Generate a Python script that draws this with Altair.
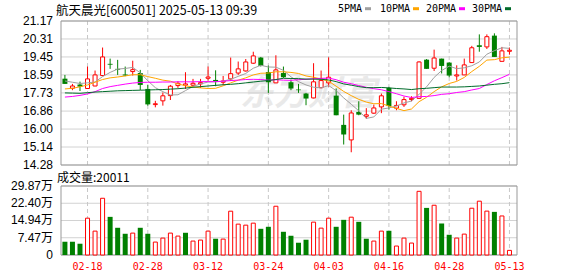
import altair as alt
import pandas as pd

title_text = "航天晨光[600501] 2025-05-13 09:39"
vol_title = "成交量:20011"
watermark = "东方财富"

dates = ["02-13", "02-14", "02-17", "02-18", "02-19", "02-20", "02-21", "02-24", "02-25", "02-26",
         "02-27", "02-28", "03-03", "03-04", "03-05", "03-06", "03-07", "03-10", "03-11", "03-12",
         "03-13", "03-14", "03-17", "03-18", "03-19", "03-20", "03-21", "03-24", "03-25", "03-26",
         "03-27", "03-28", "03-31", "04-01", "04-02", "04-03", "04-07", "04-08", "04-09", "04-10",
         "04-11", "04-14", "04-15", "04-16", "04-17", "04-18", "04-21", "04-22", "04-23", "04-24",
         "04-25", "04-28", "04-29", "04-30", "05-06", "05-07", "05-08", "05-09", "05-12", "05-13"]
opens = [18.41, 17.95, 18.13, 17.94, 18.06, 18.56, 19.12, 18.88, 18.61, 18.75,
         18.68, 17.92, 17.17, 17.35, 17.60, 18.08, 18.10, 18.10, 18.16, 18.43,
         18.35, 18.24, 18.40, 18.68, 18.78, 19.15, 19.42, 18.73, 18.21, 18.68,
         18.24, 17.89, 17.70, 17.49, 17.98, 18.21, 17.60, 16.20, 15.48, 16.82,
         16.61, 16.76, 17.06, 17.97, 17.00, 17.16, 17.41, 17.47, 19.32, 18.91,
         19.37, 19.18, 18.54, 18.59, 19.18, 20.01, 19.93, 20.47, 19.24, 19.72]
highs = [18.59, 18.16, 18.27, 18.99, 18.80, 19.90, 19.37, 19.31, 18.99, 19.27,
         18.83, 18.11, 17.35, 17.75, 18.11, 18.29, 18.72, 18.40, 18.40, 18.99,
         18.81, 18.54, 19.42, 19.23, 19.35, 19.70, 19.45, 19.04, 19.53, 18.99,
         18.37, 18.16, 17.73, 19.15, 18.80, 19.43, 17.94, 16.69, 16.90, 17.33,
         17.00, 17.17, 17.70, 18.02, 17.33, 17.55, 17.57, 19.24, 19.35, 19.80,
         19.37, 19.20, 19.05, 19.37, 19.98, 20.53, 20.53, 20.58, 19.93, 19.90]
lows = [18.16, 17.86, 17.82, 17.92, 18.05, 18.53, 18.88, 18.59, 18.53, 18.56,
        17.87, 17.12, 17.04, 17.12, 17.39, 17.97, 17.92, 18.05, 17.97, 18.32,
        18.05, 18.11, 18.30, 18.59, 18.75, 19.12, 18.99, 17.73, 18.21, 18.45,
        17.86, 17.73, 17.14, 17.47, 17.95, 18.03, 16.66, 15.26, 14.89, 16.66,
        16.49, 16.73, 16.76, 16.93, 16.90, 17.06, 17.33, 17.44, 18.88, 18.78,
        18.66, 18.48, 18.32, 18.59, 19.18, 19.70, 19.83, 19.45, 19.24, 19.56]
closes = [18.16, 18.06, 18.03, 18.40, 18.59, 19.45, 19.08, 18.84, 18.56, 18.84,
          18.11, 17.18, 17.21, 17.59, 18.05, 18.19, 18.16, 18.19, 18.22, 18.49,
          18.26, 18.30, 18.65, 18.88, 19.21, 19.50, 19.02, 18.24, 18.83, 18.48,
          17.94, 17.86, 17.46, 18.26, 18.32, 18.48, 16.66, 15.74, 16.77, 16.69,
          16.68, 17.01, 17.59, 17.10, 17.13, 17.41, 17.47, 19.21, 18.88, 19.40,
          19.02, 18.56, 18.59, 19.07, 19.89, 19.93, 20.42, 19.45, 19.74, 19.77]
volumes = [5.74, 5.74, 4.88, 15.94, 10.34, 24.56, 16.51, 11.78, 9.19, 9.48,
           11.78, 9.19, 5.60, 7.32, 9.48, 8.19, 9.62, 6.03, 6.46, 10.34,
           7.04, 6.89, 18.96, 13.36, 12.92, 13.79, 11.34, 12.21, 21.11, 10.05,
           8.33, 5.31, 6.61, 14.22, 11.63, 15.94, 12.21, 15.22, 16.37, 14.36,
           7.04, 6.03, 10.34, 10.48, 3.88, 7.32, 5.17, 27.57, 20.39, 21.54,
           13.64, 8.76, 7.32, 9.05, 20.25, 23.30, 19.00, 18.67, 16.90, 2.00]
vol_up = [0, 0, 0, 1, 1, 1, 0, 0, 0, 1, 0, 0, 1, 1, 1, 1, 0, 1, 1, 1, 0, 1, 1, 1, 1, 1, 0, 0, 1, 0,
          0, 0, 0, 1, 1, 1, 0, 0, 1, 0, 0, 1, 1, 0, 1, 1, 1, 1, 0, 1, 0, 0, 1, 1, 1, 1, 1, 0, 1, 1]

ma5 = [18.30, 18.24, 18.18, 18.21, 18.25, 18.51, 18.71, 18.87, 18.90, 18.95,
       18.69, 18.31, 17.98, 17.79, 17.63, 17.64, 17.84, 18.04, 18.16, 18.25,
       18.26, 18.29, 18.38, 18.52, 18.66, 18.91, 19.05, 18.97, 18.96, 18.81,
       18.50, 18.27, 18.11, 18.00, 17.97, 18.08, 17.84, 17.49, 17.19, 16.87,
       16.51, 16.58, 16.95, 17.01, 17.10, 17.25, 17.34, 17.66, 18.02, 18.47,
       18.80, 19.01, 18.89, 18.93, 19.03, 19.21, 19.58, 19.75, 19.89, 19.86]
ma10 = [17.92, 17.95, 18.02, 18.11, 18.24, 18.37, 18.45, 18.49, 18.54, 18.60,
        18.60, 18.51, 18.43, 18.34, 18.29, 18.16, 18.07, 18.01, 17.97, 17.94,
        17.95, 18.07, 18.21, 18.34, 18.45, 18.59, 18.67, 18.68, 18.74, 18.74,
        18.71, 18.66, 18.54, 18.48, 18.39, 18.29, 18.05, 17.80, 17.60, 17.42,
        17.29, 17.21, 17.22, 17.10, 16.99, 16.88, 16.96, 17.31, 17.52, 17.79,
        18.02, 18.18, 18.28, 18.47, 18.75, 19.00, 19.30, 19.32, 19.41, 19.44]
ma20 = [17.53, 17.56, 17.61, 17.68, 17.79, 17.94, 18.03, 18.09, 18.15, 18.20,
        18.23, 18.24, 18.24, 18.25, 18.25, 18.26, 18.26, 18.26, 18.27, 18.27,
        18.27, 18.29, 18.32, 18.34, 18.37, 18.38, 18.37, 18.34, 18.36, 18.34,
        18.33, 18.36, 18.38, 18.41, 18.42, 18.44, 18.36, 18.24, 18.17, 18.08,
        18.00, 17.93, 17.88, 17.79, 17.69, 17.58, 17.51, 17.55, 17.56, 17.60,
        17.66, 17.69, 17.75, 17.79, 17.87, 17.94, 18.13, 18.31, 18.46, 18.62]
ma30 = [17.73, 17.72, 17.71, 17.74, 17.77, 17.79, 17.81, 17.83, 17.84, 17.85,
        17.86, 17.87, 17.88, 17.89, 17.91, 17.93, 17.96, 18.00, 18.03, 18.06,
        18.09, 18.12, 18.14, 18.17, 18.21, 18.25, 18.29, 18.32, 18.37, 18.43,
        18.42, 18.41, 18.39, 18.39, 18.38, 18.35, 18.27, 18.16, 18.10, 18.03,
        17.98, 17.98, 17.99, 17.97, 17.94, 17.92, 17.89, 17.93, 17.95, 17.98,
        18.01, 18.01, 18.01, 18.02, 18.04, 18.06, 18.10, 18.14, 18.17, 18.22]

price_ticks = [14.28, 15.14, 16.00, 16.86, 17.73, 18.59, 19.45, 20.31, 21.17]
price_labels = ["14.28", "15.14", "16.00", "16.86", "17.73", "18.59", "19.45", "20.31", "21.17"]
vol_ticks = [0, 7.47, 14.94, 22.40, 29.87]
vol_labels = ["0", "7.47万", "14.94万", "22.40万", "29.87万"]
date_tick_idx = [3, 11, 19, 27, 35, 43, 51, 59]
ma_names = ["5PMA", "10PMA", "20PMA", "30PMA"]
ma_colors = ["#a0a0a0", "#ffa500", "#ff00ff", "#006b2a"]

RED = "#ff0000"
GREEN = "#008000"
GRID = "#d2d2d2"
VGRID = "#c8c8c8"
FRAME = "#999999"
LABEL_FONT = "Liberation Sans, Noto Sans CJK SC"
W, H = 466, 234
P_RANGE = [144, 0]
V_RANGE = [234, 165]
X_DOMAIN = [-0.52, 60.0]
P_DOMAIN = [price_ticks[0], price_ticks[-1]]
V_DOMAIN = [vol_ticks[0], vol_ticks[-1]]

n = len(dates)
df = pd.DataFrame({"i": list(range(n)), "date": dates, "open": opens, "high": highs,
                   "low": lows, "close": closes, "vol": volumes})
df["dir"] = ["up" if c >= o else "down" for o, c in zip(opens, closes)]
df["vdir"] = ["up" if u else "down" for u in vol_up]

ma_df = pd.DataFrame({
    "i": list(range(n)) * 4,
    "v": ma5 + ma10 + ma20 + ma30,
    "name": sum([[nm] * n for nm in ma_names], []),
})

xscale = alt.Scale(domain=X_DOMAIN, nice=False, zero=False)
pscale = alt.Scale(domain=P_DOMAIN, range=P_RANGE, nice=False, zero=False)
vscale = alt.Scale(domain=V_DOMAIN, range=V_RANGE, nice=False, zero=False)


def X(field):
    return alt.X(field, scale=xscale, axis=None)


def PY(field):
    return alt.Y(field, scale=pscale, axis=None)


def VY(field):
    return alt.Y(field, scale=vscale, axis=None)


# ---------- price panel ----------
wm = alt.Chart(pd.DataFrame({"t": [watermark]})).mark_text(
    font="Noto Sans CJK SC", fontSize=34, fontWeight="bold", fontStyle="italic",
    color="#e9e9e9", align="left", baseline="alphabetic"
).encode(x=alt.value(184), y=alt.value(84), text="t:N")

p_tick_df = pd.DataFrame({"v": price_ticks, "lab": price_labels,
                          "x0": X_DOMAIN[0], "x1": X_DOMAIN[1]})
p_grid = alt.Chart(p_tick_df).mark_rule(color=GRID, strokeWidth=1).encode(
    x=X("x0:Q"), x2="x1:Q", y=PY("v:Q"))
p_lab = alt.Chart(p_tick_df).mark_text(
    font=LABEL_FONT, fontSize=12, color="#000000", align="right", baseline="middle"
).encode(x=alt.value(-3), y=PY("v:Q"), text="lab:N")

p_vgrid = alt.Chart(pd.DataFrame({"i": date_tick_idx, "lo": P_DOMAIN[0], "hi": P_DOMAIN[1]})).mark_rule(
    strokeDash=[4, 3], color=VGRID, strokeWidth=1).encode(
    x=X("i:Q"), y=PY("lo:Q"), y2="hi:Q")

p_frame = alt.Chart(pd.DataFrame({"x0": [X_DOMAIN[0]], "x1": [X_DOMAIN[1]],
                                  "y0": [P_DOMAIN[0]], "y1": [P_DOMAIN[1]]})).mark_rect(
    fillOpacity=0, stroke=FRAME, strokeWidth=1).encode(
    x=X("x0:Q"), x2="x1:Q", y=PY("y0:Q"), y2="y1:Q")

wick_up = alt.Chart(df).transform_filter("datum.dir == 'up'").mark_rule(
    strokeWidth=1, color=RED).encode(x=X("i:Q"), y=PY("low:Q"), y2="high:Q")
wick_dn = alt.Chart(df).transform_filter("datum.dir == 'down'").mark_rule(
    strokeWidth=1, color=GREEN).encode(x=X("i:Q"), y=PY("low:Q"), y2="high:Q")

body_up = alt.Chart(df).transform_filter("datum.dir == 'up'").mark_bar(
    size=4, fill="#ffffff", stroke=RED, strokeWidth=1).encode(
    x=X("i:Q"), y=PY("open:Q"), y2="close:Q")
body_dn = alt.Chart(df).transform_filter("datum.dir == 'down'").mark_bar(
    size=5, color=GREEN).encode(
    x=X("i:Q"), y=PY("open:Q"), y2="close:Q")

ma_lines = alt.Chart(ma_df).mark_line(strokeWidth=1).encode(
    x=X("i:Q"), y=PY("v:Q"),
    color=alt.Color("name:N", scale=alt.Scale(domain=ma_names, range=ma_colors), legend=None))

price = alt.layer(wm, p_grid, p_vgrid, p_frame, p_lab, wick_up, wick_dn, body_up, body_dn, ma_lines)

# ---------- volume panel ----------
v_tick_df = pd.DataFrame({"v": vol_ticks, "lab": vol_labels,
                          "x0": X_DOMAIN[0], "x1": X_DOMAIN[1]})
v_grid = alt.Chart(v_tick_df).mark_rule(color=GRID, strokeWidth=1).encode(
    x=X("x0:Q"), x2="x1:Q", y=VY("v:Q"))
v_lab = alt.Chart(v_tick_df).mark_text(
    font=LABEL_FONT, fontSize=12, color="#000000", align="right", baseline="middle"
).encode(x=alt.value(-3), y=VY("v:Q"), text="lab:N")

v_vgrid = alt.Chart(pd.DataFrame({"i": date_tick_idx, "lo": V_DOMAIN[0], "hi": V_DOMAIN[1]})).mark_rule(
    strokeDash=[4, 3], color=VGRID, strokeWidth=1).encode(
    x=X("i:Q"), y=VY("lo:Q"), y2="hi:Q")

v_frame = alt.Chart(pd.DataFrame({"x0": [X_DOMAIN[0]], "x1": [X_DOMAIN[1]],
                                  "y0": [V_DOMAIN[0]], "y1": [V_DOMAIN[1]]})).mark_rect(
    fillOpacity=0, stroke=FRAME, strokeWidth=1).encode(
    x=X("x0:Q"), x2="x1:Q", y=VY("y0:Q"), y2="y1:Q")

vol_up_bars = alt.Chart(df).transform_filter("datum.vdir == 'up'").mark_bar(
    size=4, fill="#ffffff", stroke=RED, strokeWidth=1).encode(
    x=X("i:Q"), y=VY("vol:Q"))
vol_dn_bars = alt.Chart(df).transform_filter("datum.vdir == 'down'").mark_bar(
    size=5, color=GREEN).encode(
    x=X("i:Q"), y=VY("vol:Q"))

date_df = pd.DataFrame({"i": date_tick_idx, "lab": [dates[i] for i in date_tick_idx]})
date_lab = alt.Chart(date_df).mark_text(
    font="DejaVu Sans Mono", fontSize=10, color=RED, align="center", baseline="alphabetic"
).encode(x=X("i:Q"), y=alt.value(248.5), text="lab:N")

volume = alt.layer(v_grid, v_vgrid, v_frame, v_lab, vol_up_bars, vol_dn_bars, date_lab)

# ---------- texts ----------
texts = []
texts.append(alt.Chart(pd.DataFrame({"t": [title_text]})).mark_text(
    font="Noto Sans CJK SC", fontSize=12.5, color="#000000", align="left", baseline="alphabetic"
).encode(x=alt.value(0), y=alt.value(-6.3), text="t:N"))
texts.append(alt.Chart(pd.DataFrame({"t": [vol_title]})).mark_text(
    font="Noto Sans CJK SC", fontSize=12, color="#000000", align="left", baseline="alphabetic"
).encode(x=alt.value(1), y=alt.value(160.5), text="t:N"))

leg_text_x = [282, 324, 370, 416]
leg_dash_x = [309, 357, 403, 449]
for k, nm in enumerate(ma_names):
    texts.append(alt.Chart(pd.DataFrame({"t": [nm]})).mark_text(
        font="DejaVu Sans Mono", fontSize=10, color="#000000", align="left", baseline="middle"
    ).encode(x=alt.value(leg_text_x[k]), y=alt.value(-12.3), text="t:N"))
    texts.append(alt.Chart(pd.DataFrame({"t": [nm]})).mark_rule(
        color=ma_colors[k], strokeWidth=3).encode(
        x=alt.value(leg_dash_x[k]), x2=alt.value(leg_dash_x[k] + 6), y=alt.value(-12.3)))

chart = alt.layer(price, volume, *texts).resolve_scale(y="independent").properties(
    width=W, height=H,
    padding={"left": 56, "top": 21, "right": 56, "bottom": 21},
    autosize=alt.AutoSizeParams(type="none"),
    background="#ffffff",
).configure_view(strokeWidth=0)

chart.save("out.html", embed_options={"renderer": "svg", "actions": False})
